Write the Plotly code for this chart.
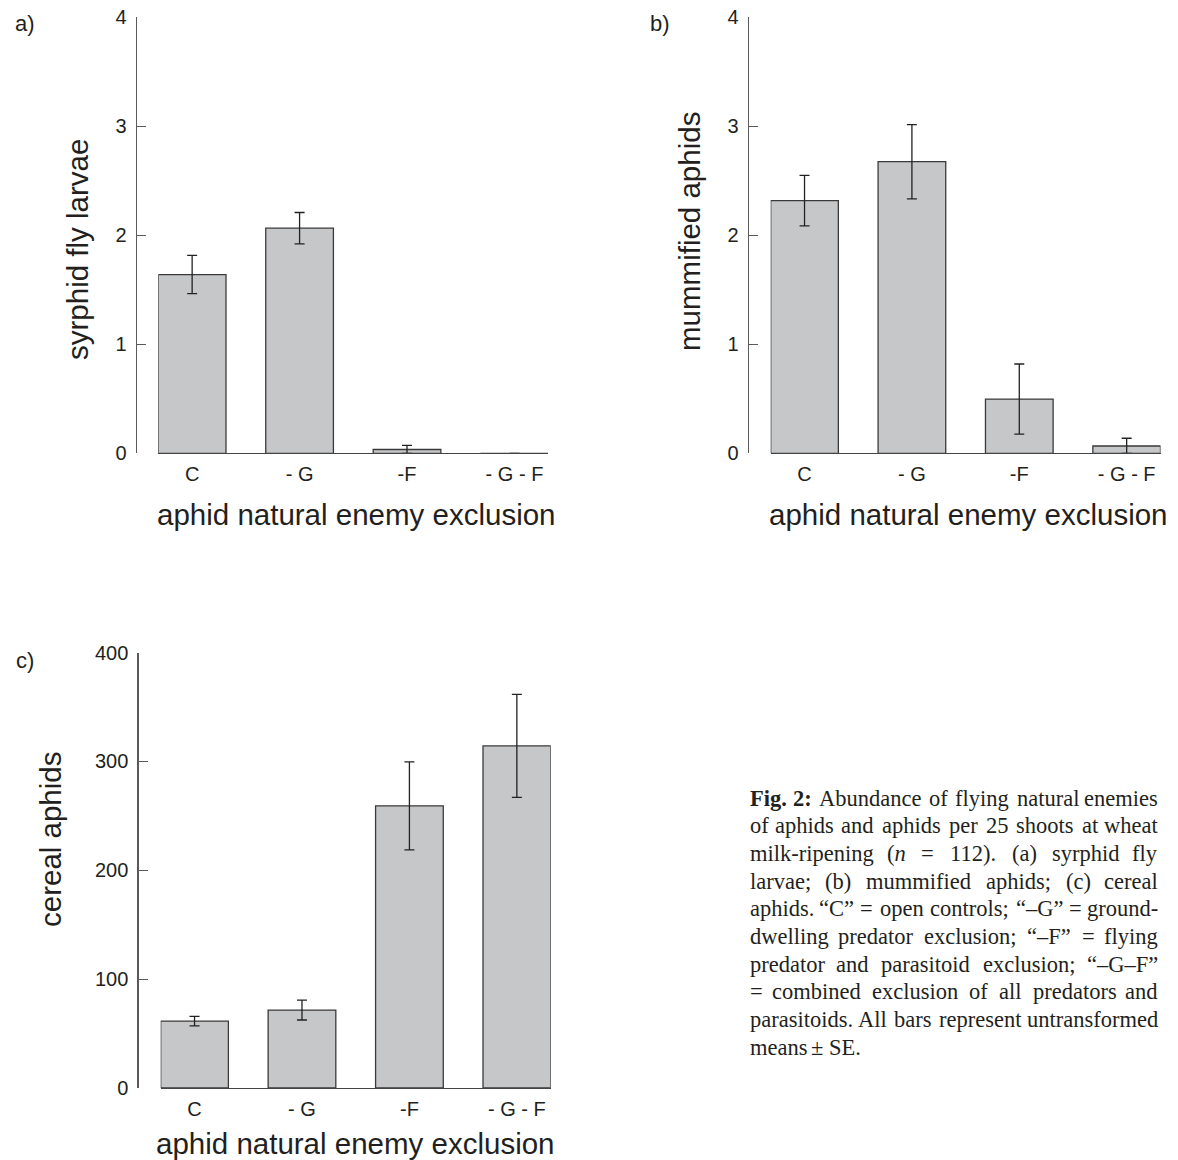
import re
import plotly.graph_objects as go

# ---------------- data ----------------
categories = ["C", "- G", "-F", "- G - F"]

syrphid_mean = [1.64, 2.065, 0.035, 0.0]
syrphid_se = [0.175, 0.144, 0.037, 0.0]

mummy_mean = [2.318, 2.675, 0.497, 0.067]
mummy_se = [0.231, 0.341, 0.322, 0.071]

cereal_mean = [61.5, 71.6, 259.2, 314.3]
cereal_se = [4.4, 9.1, 40.5, 47.3]

yticks_ab = [0, 1, 2, 3, 4]
yticks_c = [0, 100, 200, 300, 400]

# ---------------- layout helpers ----------------
W, H = 1178, 1160

# vertical correction measured for the capture of this page
V_OFF, V_SCALE = 12.0, 0.981


def fx(px):
    return px / W


def fy(py):
    p = (py - V_OFF) / V_SCALE + 1
    return 1 - p / H


BAR_FILL = "#c6c7c9"
BAR_LINE = "#3a3a3a"
AXIS_COL = "#5a5a5a"
TXT = "#231f20"
SANS = "Liberation Sans, Arial, sans-serif"
SERIF = "Liberation Serif, Times New Roman, serif"

fig = go.Figure()

panels = [
    (syrphid_mean, syrphid_se, "x", "y"),
    (mummy_mean, mummy_se, "x2", "y2"),
    (cereal_mean, cereal_se, "x3", "y3"),
]

for mean, se, xa, ya in panels:
    minus = [min(s, m) for s, m in zip(se, mean)]
    fig.add_trace(go.Bar(
        x=categories, y=mean, xaxis=xa, yaxis=ya, width=0.63,
        marker=dict(color=BAR_FILL, line=dict(color=BAR_LINE, width=1.3)),
        error_y=dict(type="data", array=se, arrayminus=minus, visible=True,
                     color="#222222", thickness=1.3, width=5),
        showlegend=False, hoverinfo="skip",
    ))

xrange = [-0.315, 3.315]


def xaxis_cfg(dom, anchor):
    return dict(domain=dom, anchor=anchor, range=xrange, type="category",
                showline=True, linecolor="#444444", linewidth=1.2,
                ticks="", showgrid=False, zeroline=False,
                tickfont=dict(family=SANS, size=20, color=TXT),
                ticklabelstandoff=3, fixedrange=True)


def yaxis_cfg(dom, pos, rng, tv):
    return dict(domain=dom, anchor="free", position=pos, range=rng,
                tickmode="array", tickvals=tv, ticktext=[str(v) for v in tv],
                ticks="inside", ticklen=9, tickwidth=1, tickcolor=AXIS_COL,
                showline=True, linecolor=AXIS_COL, linewidth=1.2,
                showgrid=False, zeroline=False,
                tickfont=dict(family=SANS, size=20, color=TXT),
                ticklabelstandoff=5, fixedrange=True)


fig.update_layout(
    width=W, height=H, autosize=False,
    margin=dict(l=0, r=0, t=0, b=0, pad=0),
    paper_bgcolor="white", plot_bgcolor="white",
    bargap=0,
    xaxis=xaxis_cfg([fx(158.3), fx(548.3)], "y"),
    yaxis=yaxis_cfg([fy(453.3), fy(17.3)], fx(135.5), [0, 4], yticks_ab),
    xaxis2=xaxis_cfg([fx(770.7), fx(1160.5)], "y2"),
    yaxis2=yaxis_cfg([fy(453.3), fy(17.3)], fx(747.5), [0, 4], yticks_ab),
    xaxis3=xaxis_cfg([fx(160.7), fx(550.7)], "y3"),
    yaxis3=yaxis_cfg([fy(1088), fy(652.6)], fx(137.3), [0, 400], yticks_c),
)

ann = []


def text(x, y, s, size, angle=0, xa="center", ya="middle", family=SANS):
    ann.append(dict(x=fx(x), y=fy(y), xref="paper", yref="paper", text=s,
                    showarrow=False, textangle=angle, xanchor=xa, yanchor=ya,
                    font=dict(family=family, size=size, color=TXT)))


# panel letters
text(25, 24, "a)", 22)
text(660, 24, "b)", 22)
text(25, 660, "c)", 22)

# axis titles
TS = 29.5
xt = "aphid natural enemy exclusion"
text(356, 515, xt, TS)
text(968, 515, xt, TS)
text(355, 1143, xt, TS)
text(78, 250, "syrphid fly larvae", TS, angle=-90)
text(690, 232, "mummified aphids", TS, angle=-90)
text(50, 840, "cereal aphids", TS, angle=-90)

# ---------------- caption (justified) ----------------
CW = {' ': 250, '!': 333, '(': 333, ')': 333, '+': 564, ',': 250, '-': 333,
      '.': 250, ':': 278, ';': 278, '=': 564, '±': 549, '–': 500, '“': 444,
      '”': 444}
for d in "0123456789":
    CW[d] = 500
CW.update(dict(A=722, B=667, C=667, D=722, E=611, F=556, G=722, H=722, I=333,
               J=389, K=722, L=611, M=889, N=722, O=722, P=556, Q=722, R=667,
               S=556, T=611, U=722, V=722, W=944, X=722, Y=722, Z=611))
CW.update(dict(a=444, b=500, c=444, d=500, e=444, f=333, g=500, h=500, i=278,
               j=278, k=500, l=278, m=778, n=500, o=500, p=500, q=500, r=333,
               s=389, t=278, u=500, v=500, w=722, x=500, y=500, z=444))

CAP_SIZE = 22.5
CAP_L, CAP_R = 748, 1160
CAP_Y0, CAP_DY = 798, 27.67

caption_lines = [
    ["<b>Fig.</b>", "<b>2:</b>", "Abundance", "of", "flying", "natural", "enemies"],
    ["of", "aphids", "and", "aphids", "per", "25", "shoots", "at", "wheat"],
    ["milk-ripening", "(<i>n</i>", "=", "112).", "(a)", "syrphid", "fly"],
    ["larvae;", "(b)", "mummified", "aphids;", "(c)", "cereal"],
    ["aphids.", "“C”", "=", "open", "controls;", "“–G”", "=", "ground-"],
    ["dwelling", "predator", "exclusion;", "“–F”", "=", "flying"],
    ["predator", "and", "parasitoid", "exclusion;", "“–G–F”"],
    ["=", "combined", "exclusion", "of", "all", "predators", "and"],
    ["parasitoids.", "All", "bars", "represent", "untransformed"],
    ["means", "±", "SE."],
]


def wwidth(word):
    plain = re.sub(r"<[^>]+>", "", word)
    w = sum(CW.get(ch, 500) for ch in plain) / 1000 * CAP_SIZE
    if "<b>" in word:
        w *= 1.06
    return w


for i, words in enumerate(caption_lines):
    y = CAP_Y0 + i * CAP_DY
    widths = [wwidth(w) for w in words]
    last = i == len(caption_lines) - 1
    gap = 0.25 * CAP_SIZE if last else (CAP_R - CAP_L - sum(widths)) / (len(words) - 1)
    x = CAP_L
    for j, (wd, w) in enumerate(zip(words, widths)):
        if j == 0:
            text(x, y, wd, CAP_SIZE, xa="left", family=SERIF)
        elif j == len(words) - 1 and not last:
            text(CAP_R, y, wd, CAP_SIZE, xa="right", family=SERIF)
        else:
            text(x + w / 2, y, wd, CAP_SIZE, xa="center", family=SERIF)
        x += w + gap

fig.update_layout(annotations=ann)

post = (
    "document.documentElement.style.margin='0';"
    "document.documentElement.style.overflow='hidden';"
    "document.body.style.margin='0';"
    "document.body.style.overflow='hidden';"
    "var g=document.getElementById('{plot_id}');"
    "g.style.position='fixed';g.style.left='0px';g.style.top='0px';"
)

fig.write_html("out.html", config={"displayModeBar": False, "staticPlot": True},
               post_script=post)
